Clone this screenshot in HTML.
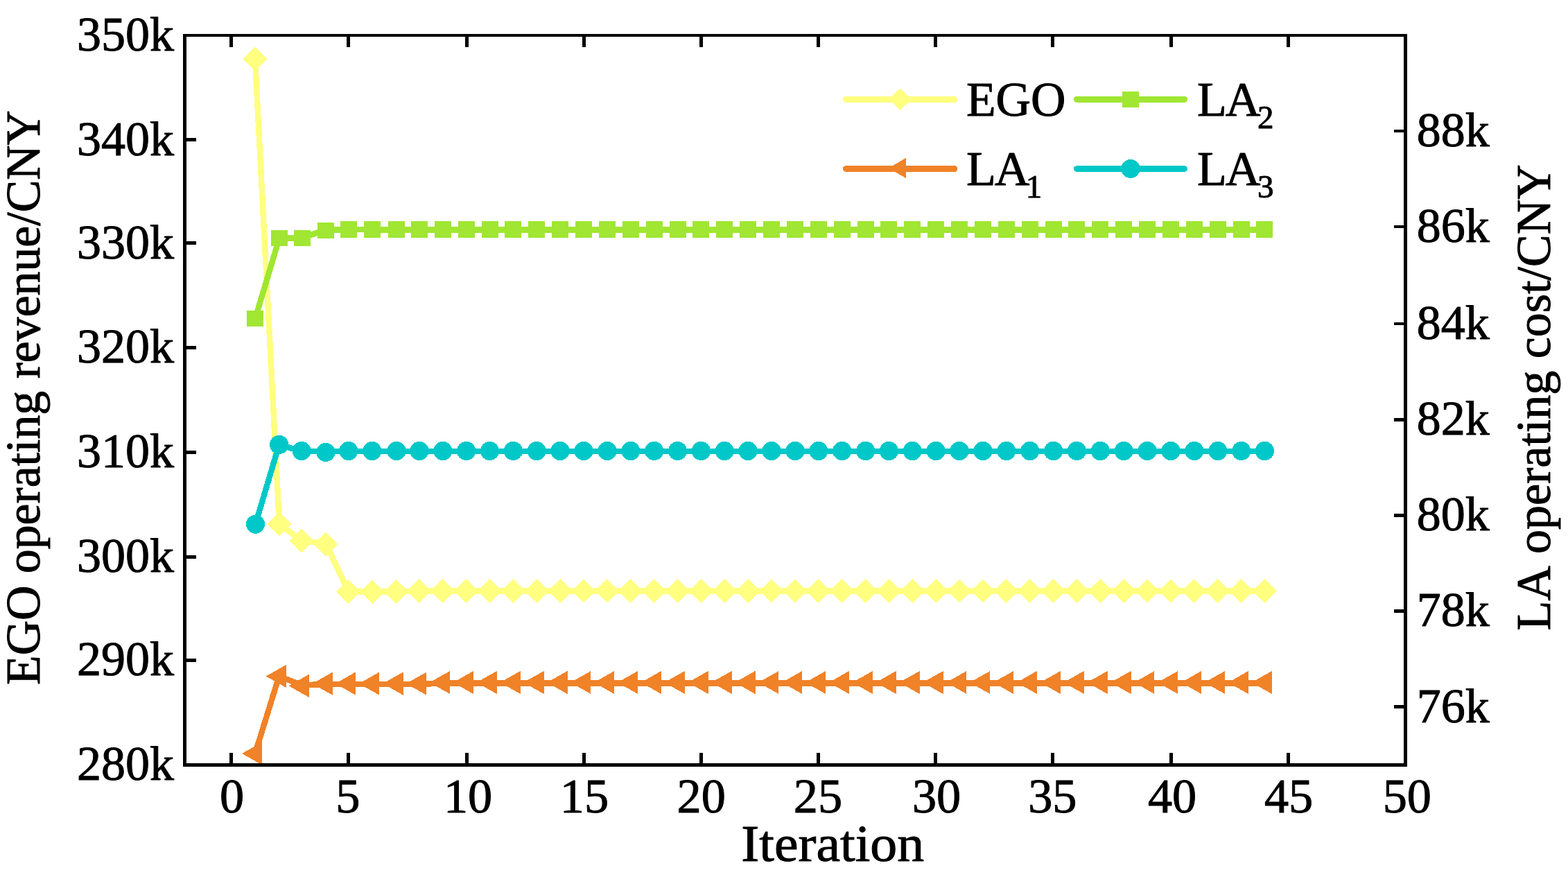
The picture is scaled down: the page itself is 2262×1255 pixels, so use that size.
<!DOCTYPE html>
<html lang="en"><head><meta charset="utf-8"><title>Iteration convergence chart</title>
<style>html,body{margin:0;padding:0;background:#fff}body{width:2262px;height:1255px;overflow:hidden}svg{display:block}text{font-family:"Liberation Serif",serif;fill:#000;stroke:#000;stroke-width:1px;stroke-linejoin:round}</style>
</head><body>
<svg width="2262" height="1255" viewBox="0 0 2262 1255" role="img" aria-label="EGO operating revenue and LA operating cost versus iteration">
<rect x="0" y="0" width="2262" height="1255" fill="#fff"/>
<g fill="#FFFF80" stroke="none" shape-rendering="crispEdges">
<polyline points="368,85 403,756 434.8,780 470.1,784 502.7,853.4 537.2,853.4 571.6,853.4 604.87,852.6 638.75,852.6 672.63,852.6 706.51,852.6 740.39,852.6 774.26,852.6 808.14,852.6 842.02,852.6 875.9,852.6 909.78,852.6 943.65,852.6 977.53,852.6 1011.41,852.6 1045.29,852.6 1079.17,852.6 1113.04,852.6 1146.92,852.6 1180.8,852.6 1214.68,852.6 1248.56,852.6 1282.43,852.6 1316.31,852.6 1350.19,852.6 1384.07,852.6 1417.95,852.6 1451.82,852.6 1485.7,852.6 1519.58,852.6 1553.46,852.6 1587.34,852.6 1621.21,852.6 1655.09,852.6 1688.97,852.6 1722.85,852.6 1756.73,852.6 1790.6,852.6 1824.48,852.6" fill="none" stroke="#FFFF80" stroke-width="8.4" stroke-linejoin="round" stroke-linecap="round"/>
<path d="M368 67.6L385.4 85L368 102.4L350.6 85ZM403 738.6L420.4 756L403 773.4L385.6 756ZM434.8 762.6L452.2 780L434.8 797.4L417.4 780ZM470.1 767.6L487.5 785L470.1 802.4L452.7 785ZM502.7 836.3L520.1 853.7L502.7 871.1L485.3 853.7ZM537.2 836.3L554.6 853.7L537.2 871.1L519.8 853.7ZM571.6 836.3L589 853.7L571.6 871.1L554.2 853.7ZM604.87 835.1L622.27 852.5L604.87 869.9L587.47 852.5ZM638.75 835.1L656.15 852.5L638.75 869.9L621.35 852.5ZM672.63 835.1L690.03 852.5L672.63 869.9L655.23 852.5ZM706.51 835.1L723.91 852.5L706.51 869.9L689.11 852.5ZM740.39 835.1L757.79 852.5L740.39 869.9L722.99 852.5ZM774.26 835.1L791.66 852.5L774.26 869.9L756.86 852.5ZM808.14 835.1L825.54 852.5L808.14 869.9L790.74 852.5ZM842.02 835.1L859.42 852.5L842.02 869.9L824.62 852.5ZM875.9 835.1L893.3 852.5L875.9 869.9L858.5 852.5ZM909.78 835.1L927.18 852.5L909.78 869.9L892.38 852.5ZM943.65 835.1L961.05 852.5L943.65 869.9L926.25 852.5ZM977.53 835.1L994.93 852.5L977.53 869.9L960.13 852.5ZM1011.41 835.1L1028.81 852.5L1011.41 869.9L994.01 852.5ZM1045.29 835.1L1062.69 852.5L1045.29 869.9L1027.89 852.5ZM1079.17 835.1L1096.57 852.5L1079.17 869.9L1061.77 852.5ZM1113.04 835.1L1130.44 852.5L1113.04 869.9L1095.64 852.5ZM1146.92 835.1L1164.32 852.5L1146.92 869.9L1129.52 852.5ZM1180.8 835.1L1198.2 852.5L1180.8 869.9L1163.4 852.5ZM1214.68 835.1L1232.08 852.5L1214.68 869.9L1197.28 852.5ZM1248.56 835.1L1265.96 852.5L1248.56 869.9L1231.16 852.5ZM1282.43 835.1L1299.83 852.5L1282.43 869.9L1265.03 852.5ZM1316.31 835.1L1333.71 852.5L1316.31 869.9L1298.91 852.5ZM1350.19 835.1L1367.59 852.5L1350.19 869.9L1332.79 852.5ZM1384.07 835.1L1401.47 852.5L1384.07 869.9L1366.67 852.5ZM1417.95 835.1L1435.35 852.5L1417.95 869.9L1400.55 852.5ZM1451.82 835.1L1469.22 852.5L1451.82 869.9L1434.42 852.5ZM1485.7 835.1L1503.1 852.5L1485.7 869.9L1468.3 852.5ZM1519.58 835.1L1536.98 852.5L1519.58 869.9L1502.18 852.5ZM1553.46 835.1L1570.86 852.5L1553.46 869.9L1536.06 852.5ZM1587.34 835.1L1604.74 852.5L1587.34 869.9L1569.94 852.5ZM1621.21 835.1L1638.61 852.5L1621.21 869.9L1603.81 852.5ZM1655.09 835.1L1672.49 852.5L1655.09 869.9L1637.69 852.5ZM1688.97 835.1L1706.37 852.5L1688.97 869.9L1671.57 852.5ZM1722.85 835.1L1740.25 852.5L1722.85 869.9L1705.45 852.5ZM1756.73 835.1L1774.13 852.5L1756.73 869.9L1739.33 852.5ZM1790.6 835.1L1808 852.5L1790.6 869.9L1773.2 852.5ZM1824.48 835.1L1841.88 852.5L1824.48 869.9L1807.08 852.5Z"/>
</g>
<g fill="#F08228" stroke="none" shape-rendering="crispEdges">
<polyline points="368,1087 402.6,975.5 435.4,988.3 469.4,987 502.6,987 536.8,987 571.2,987 604.87,987 638.75,985.6 672.63,985.6 706.51,985.6 740.39,985.6 774.26,985.6 808.14,985.6 842.02,985.6 875.9,985.6 909.78,985.6 943.65,985.6 977.53,985.6 1011.41,985.6 1045.29,985.6 1079.17,985.6 1113.04,985.6 1146.92,985.6 1180.8,985.6 1214.68,985.6 1248.56,985.6 1282.43,985.6 1316.31,985.6 1350.19,985.6 1384.07,985.6 1417.95,985.6 1451.82,985.6 1485.7,985.6 1519.58,985.6 1553.46,985.6 1587.34,985.6 1621.21,985.6 1655.09,985.6 1688.97,985.6 1722.85,985.6 1756.73,985.6 1790.6,985.6 1824.48,985.6" fill="none" stroke="#F08228" stroke-width="8.4" stroke-linejoin="round" stroke-linecap="round"/>
<path d="M349.1 1087L378.4 1070.4L378.4 1103.6ZM383.7 975.5L413 958.9L413 992.1ZM416.5 989.3L445.8 972.7L445.8 1005.9ZM450.5 986.2L479.8 969.6L479.8 1002.8ZM483.7 986.1L513 969.5L513 1002.7ZM517.9 986.1L547.2 969.5L547.2 1002.7ZM552.3 986.1L581.6 969.5L581.6 1002.7ZM585.97 986.1L615.27 969.5L615.27 1002.7ZM619.85 984.5L649.15 967.9L649.15 1001.1ZM653.73 984.5L683.03 967.9L683.03 1001.1ZM687.61 984.5L716.91 967.9L716.91 1001.1ZM721.49 984.5L750.79 967.9L750.79 1001.1ZM755.36 984.5L784.66 967.9L784.66 1001.1ZM789.24 984.5L818.54 967.9L818.54 1001.1ZM823.12 984.5L852.42 967.9L852.42 1001.1ZM857 984.5L886.3 967.9L886.3 1001.1ZM890.88 984.5L920.18 967.9L920.18 1001.1ZM924.75 984.5L954.05 967.9L954.05 1001.1ZM958.63 984.5L987.93 967.9L987.93 1001.1ZM992.51 984.5L1021.81 967.9L1021.81 1001.1ZM1026.39 984.5L1055.69 967.9L1055.69 1001.1ZM1060.27 984.5L1089.57 967.9L1089.57 1001.1ZM1094.14 984.5L1123.44 967.9L1123.44 1001.1ZM1128.02 984.5L1157.32 967.9L1157.32 1001.1ZM1161.9 984.5L1191.2 967.9L1191.2 1001.1ZM1195.78 984.5L1225.08 967.9L1225.08 1001.1ZM1229.66 984.5L1258.96 967.9L1258.96 1001.1ZM1263.53 984.5L1292.83 967.9L1292.83 1001.1ZM1297.41 984.5L1326.71 967.9L1326.71 1001.1ZM1331.29 984.5L1360.59 967.9L1360.59 1001.1ZM1365.17 984.5L1394.47 967.9L1394.47 1001.1ZM1399.05 984.5L1428.35 967.9L1428.35 1001.1ZM1432.92 984.5L1462.22 967.9L1462.22 1001.1ZM1466.8 984.5L1496.1 967.9L1496.1 1001.1ZM1500.68 984.5L1529.98 967.9L1529.98 1001.1ZM1534.56 984.5L1563.86 967.9L1563.86 1001.1ZM1568.44 984.5L1597.74 967.9L1597.74 1001.1ZM1602.31 984.5L1631.61 967.9L1631.61 1001.1ZM1636.19 984.5L1665.49 967.9L1665.49 1001.1ZM1670.07 984.5L1699.37 967.9L1699.37 1001.1ZM1703.95 984.5L1733.25 967.9L1733.25 1001.1ZM1737.83 984.5L1767.13 967.9L1767.13 1001.1ZM1771.7 984.5L1801 967.9L1801 1001.1ZM1805.58 984.5L1834.88 967.9L1834.88 1001.1Z"/>
</g>
<g fill="#A0E632" stroke="none" shape-rendering="crispEdges">
<polyline points="368.1,459.8 403,343.3 435.5,343.3 470,331.6 503.1,331.3 537,331.3 572,331.3 604.87,331.3 638.75,331.3 672.63,331.3 706.51,331.3 740.39,331.3 774.26,331.3 808.14,331.3 842.02,331.3 875.9,331.3 909.78,331.3 943.65,331.3 977.53,331.3 1011.41,331.3 1045.29,331.3 1079.17,331.3 1113.04,331.3 1146.92,331.3 1180.8,331.3 1214.68,331.3 1248.56,331.3 1282.43,331.3 1316.31,331.3 1350.19,331.3 1384.07,331.3 1417.95,331.3 1451.82,331.3 1485.7,331.3 1519.58,331.3 1553.46,331.3 1587.34,331.3 1621.21,331.3 1655.09,331.3 1688.97,331.3 1722.85,331.3 1756.73,331.3 1790.6,331.3 1824.48,331.3" fill="none" stroke="#A0E632" stroke-width="8.4" stroke-linejoin="round" stroke-linecap="round"/>
<path d="M356.1 448.35h24v22.9h-24ZM391 332.05h24v22.9h-24ZM423.5 332.05h24v22.9h-24ZM458 321.05h24v22.9h-24ZM491.1 319h24v24h-24ZM525 319h24v24h-24ZM560 319h24v24h-24ZM592.87 319h24v24h-24ZM626.75 319h24v24h-24ZM660.63 319h24v24h-24ZM694.51 319h24v24h-24ZM728.39 319h24v24h-24ZM762.26 319h24v24h-24ZM796.14 319h24v24h-24ZM830.02 319h24v24h-24ZM863.9 319h24v24h-24ZM897.78 319h24v24h-24ZM931.65 319h24v24h-24ZM965.53 319h24v24h-24ZM999.41 319h24v24h-24ZM1033.29 319h24v24h-24ZM1067.17 319h24v24h-24ZM1101.04 319h24v24h-24ZM1134.92 319h24v24h-24ZM1168.8 319h24v24h-24ZM1202.68 319h24v24h-24ZM1236.56 319h24v24h-24ZM1270.43 319h24v24h-24ZM1304.31 319h24v24h-24ZM1338.19 319h24v24h-24ZM1372.07 319h24v24h-24ZM1405.95 319h24v24h-24ZM1439.82 319h24v24h-24ZM1473.7 319h24v24h-24ZM1507.58 319h24v24h-24ZM1541.46 319h24v24h-24ZM1575.34 319h24v24h-24ZM1609.21 319h24v24h-24ZM1643.09 319h24v24h-24ZM1676.97 319h24v24h-24ZM1710.85 319h24v24h-24ZM1744.73 319h24v24h-24ZM1778.6 319h24v24h-24ZM1812.48 319h24v24h-24Z"/>
</g>
<g fill="#00C8C8" stroke="none" shape-rendering="crispEdges">
<polyline points="368.5,756.2 402.6,641.5 435.2,651 469.9,651.3 502.7,651.2 536.8,651.2 571.9,651.2 604.87,651.2 638.75,651.2 672.63,651.2 706.51,651.2 740.39,651.2 774.26,651.2 808.14,651.2 842.02,651.2 875.9,651.2 909.78,651.2 943.65,651.2 977.53,651.2 1011.41,651.2 1045.29,651.2 1079.17,651.2 1113.04,651.2 1146.92,651.2 1180.8,651.2 1214.68,651.2 1248.56,651.2 1282.43,651.2 1316.31,651.2 1350.19,651.2 1384.07,651.2 1417.95,651.2 1451.82,651.2 1485.7,651.2 1519.58,651.2 1553.46,651.2 1587.34,651.2 1621.21,651.2 1655.09,651.2 1688.97,651.2 1722.85,651.2 1756.73,651.2 1790.6,651.2 1824.48,651.2" fill="none" stroke="#00C8C8" stroke-width="8.4" stroke-linejoin="round" stroke-linecap="round"/>
<path d="M354.9 756.2a13.6 13.6 0 1 0 27.2 0a13.6 13.6 0 1 0 -27.2 0ZM389 641.5a13.6 13.6 0 1 0 27.2 0a13.6 13.6 0 1 0 -27.2 0ZM421.6 650.5a13.6 13.6 0 1 0 27.2 0a13.6 13.6 0 1 0 -27.2 0ZM456.3 652.4a13.6 13.6 0 1 0 27.2 0a13.6 13.6 0 1 0 -27.2 0ZM489.1 650.5a13.6 13.6 0 1 0 27.2 0a13.6 13.6 0 1 0 -27.2 0ZM523.2 650.5a13.6 13.6 0 1 0 27.2 0a13.6 13.6 0 1 0 -27.2 0ZM558.3 650.5a13.6 13.6 0 1 0 27.2 0a13.6 13.6 0 1 0 -27.2 0ZM591.27 650.5a13.6 13.6 0 1 0 27.2 0a13.6 13.6 0 1 0 -27.2 0ZM625.15 650.5a13.6 13.6 0 1 0 27.2 0a13.6 13.6 0 1 0 -27.2 0ZM659.03 650.5a13.6 13.6 0 1 0 27.2 0a13.6 13.6 0 1 0 -27.2 0ZM692.91 650.5a13.6 13.6 0 1 0 27.2 0a13.6 13.6 0 1 0 -27.2 0ZM726.79 650.5a13.6 13.6 0 1 0 27.2 0a13.6 13.6 0 1 0 -27.2 0ZM760.66 650.5a13.6 13.6 0 1 0 27.2 0a13.6 13.6 0 1 0 -27.2 0ZM794.54 650.5a13.6 13.6 0 1 0 27.2 0a13.6 13.6 0 1 0 -27.2 0ZM828.42 650.5a13.6 13.6 0 1 0 27.2 0a13.6 13.6 0 1 0 -27.2 0ZM862.3 650.5a13.6 13.6 0 1 0 27.2 0a13.6 13.6 0 1 0 -27.2 0ZM896.18 650.5a13.6 13.6 0 1 0 27.2 0a13.6 13.6 0 1 0 -27.2 0ZM930.05 650.5a13.6 13.6 0 1 0 27.2 0a13.6 13.6 0 1 0 -27.2 0ZM963.93 650.5a13.6 13.6 0 1 0 27.2 0a13.6 13.6 0 1 0 -27.2 0ZM997.81 650.5a13.6 13.6 0 1 0 27.2 0a13.6 13.6 0 1 0 -27.2 0ZM1031.69 650.5a13.6 13.6 0 1 0 27.2 0a13.6 13.6 0 1 0 -27.2 0ZM1065.57 650.5a13.6 13.6 0 1 0 27.2 0a13.6 13.6 0 1 0 -27.2 0ZM1099.44 650.5a13.6 13.6 0 1 0 27.2 0a13.6 13.6 0 1 0 -27.2 0ZM1133.32 650.5a13.6 13.6 0 1 0 27.2 0a13.6 13.6 0 1 0 -27.2 0ZM1167.2 650.5a13.6 13.6 0 1 0 27.2 0a13.6 13.6 0 1 0 -27.2 0ZM1201.08 650.5a13.6 13.6 0 1 0 27.2 0a13.6 13.6 0 1 0 -27.2 0ZM1234.96 650.5a13.6 13.6 0 1 0 27.2 0a13.6 13.6 0 1 0 -27.2 0ZM1268.83 650.5a13.6 13.6 0 1 0 27.2 0a13.6 13.6 0 1 0 -27.2 0ZM1302.71 650.5a13.6 13.6 0 1 0 27.2 0a13.6 13.6 0 1 0 -27.2 0ZM1336.59 650.5a13.6 13.6 0 1 0 27.2 0a13.6 13.6 0 1 0 -27.2 0ZM1370.47 650.5a13.6 13.6 0 1 0 27.2 0a13.6 13.6 0 1 0 -27.2 0ZM1404.35 650.5a13.6 13.6 0 1 0 27.2 0a13.6 13.6 0 1 0 -27.2 0ZM1438.22 650.5a13.6 13.6 0 1 0 27.2 0a13.6 13.6 0 1 0 -27.2 0ZM1472.1 650.5a13.6 13.6 0 1 0 27.2 0a13.6 13.6 0 1 0 -27.2 0ZM1505.98 650.5a13.6 13.6 0 1 0 27.2 0a13.6 13.6 0 1 0 -27.2 0ZM1539.86 650.5a13.6 13.6 0 1 0 27.2 0a13.6 13.6 0 1 0 -27.2 0ZM1573.74 650.5a13.6 13.6 0 1 0 27.2 0a13.6 13.6 0 1 0 -27.2 0ZM1607.61 650.5a13.6 13.6 0 1 0 27.2 0a13.6 13.6 0 1 0 -27.2 0ZM1641.49 650.5a13.6 13.6 0 1 0 27.2 0a13.6 13.6 0 1 0 -27.2 0ZM1675.37 650.5a13.6 13.6 0 1 0 27.2 0a13.6 13.6 0 1 0 -27.2 0ZM1709.25 650.5a13.6 13.6 0 1 0 27.2 0a13.6 13.6 0 1 0 -27.2 0ZM1743.13 650.5a13.6 13.6 0 1 0 27.2 0a13.6 13.6 0 1 0 -27.2 0ZM1777 650.5a13.6 13.6 0 1 0 27.2 0a13.6 13.6 0 1 0 -27.2 0ZM1810.88 650.5a13.6 13.6 0 1 0 27.2 0a13.6 13.6 0 1 0 -27.2 0Z"/>
</g>
<path d="M264 49H2030V53H264ZM264 1101H2030V1106H264ZM264 49H269V1106H264ZM2025 49H2030V1106H2025ZM331.1 1086h5v15h-5ZM331.1 53h5v15h-5ZM500.2 1086h5v15h-5ZM500.2 53h5v15h-5ZM671.1 1086h5v15h-5ZM671.1 53h5v15h-5ZM840.2 1086h5v15h-5ZM840.2 53h5v15h-5ZM1009 1086h5v15h-5ZM1009 53h5v15h-5ZM1178 1086h5v15h-5ZM1178 53h5v15h-5ZM1347 1086h5v15h-5ZM1347 53h5v15h-5ZM1515.9 1086h5v15h-5ZM1515.9 53h5v15h-5ZM1687 1086h5v15h-5ZM1687 53h5v15h-5ZM1855.9 1086h5v15h-5ZM1855.9 53h5v15h-5ZM269 198.9h14.2v4.8h-14.2ZM269 348.2h14.2v4.8h-14.2ZM269 498.9h14.2v4.8h-14.2ZM269 650.4h14.2v4.8h-14.2ZM269 801h14.2v4.8h-14.2ZM269 950.4h14.2v4.8h-14.2ZM2011 186.6h14v4.8h-14ZM2011 324.6h14v4.8h-14ZM2011 464.6h14v4.8h-14ZM2011 603h14v4.8h-14ZM2011 741h14v4.8h-14ZM2011 879.2h14v4.8h-14ZM2011 1016.9h14v4.8h-14Z" fill="#000" stroke="none" shape-rendering="crispEdges"/>
<g font-size="70" text-anchor="end">
<text x="251" y="73.4">350k</text>
<text x="251" y="223.7">340k</text>
<text x="251" y="373.1">330k</text>
<text x="251" y="522.9">320k</text>
<text x="251" y="673.7">310k</text>
<text x="251" y="824.6">300k</text>
<text x="251" y="973.7">290k</text>
<text x="251" y="1125">280k</text>
</g>
<g font-size="70" text-anchor="start">
<text x="2043.8" y="211.4">88k</text>
<text x="2043.8" y="349.3">86k</text>
<text x="2043.8" y="488.7">84k</text>
<text x="2043.8" y="627.2">82k</text>
<text x="2043.8" y="764.8">80k</text>
<text x="2043.8" y="903.2">78k</text>
<text x="2043.8" y="1041.5">76k</text>
</g>
<g font-size="70.3" text-anchor="middle">
<text x="334.5" y="1172.3">0</text>
<text x="501.8" y="1172.3">5</text>
<text x="675.1" y="1172.3">10</text>
<text x="842.9" y="1172.3">15</text>
<text x="1011.7" y="1172.3">20</text>
<text x="1179.9" y="1172.3">25</text>
<text x="1351.1" y="1172.3">30</text>
<text x="1518.3" y="1172.3">35</text>
<text x="1691.1" y="1172.3">40</text>
<text x="1859.1" y="1172.3">45</text>
<text x="2029.8" y="1172.3">50</text>
</g>
<text font-size="73.6" text-anchor="middle" x="1201.3" y="1241.8" textLength="264" lengthAdjust="spacingAndGlyphs">Iteration</text>
<text font-size="70" text-anchor="middle" transform="translate(57 573.5) rotate(-90)" x="0" y="0" textLength="828.8" lengthAdjust="spacingAndGlyphs">EGO operating revenue/CNY</text>
<text font-size="70" text-anchor="start" transform="translate(2236 909.6) rotate(-90)" x="0" y="0">LA<tspan dx="3.6"> operating cost/CNY</tspan></text>
<g fill="#FFFF80" shape-rendering="crispEdges"><line x1="1220.5" y1="143.3" x2="1376.7" y2="143.3" stroke="#FFFF80" stroke-width="9" stroke-linecap="round"/><path d="M1298.6 127.6L1315.1 143.3L1298.6 159L1282.1 143.3Z"/></g>
<g fill="#F08228" shape-rendering="crispEdges"><line x1="1220.5" y1="243.5" x2="1376.7" y2="243.5" stroke="#F08228" stroke-width="9" stroke-linecap="round"/><path d="M1281.8 242.45L1307 227.9V257Z"/></g>
<g fill="#A0E632" shape-rendering="crispEdges"><line x1="1553.5" y1="143.3" x2="1708.5" y2="143.3" stroke="#A0E632" stroke-width="9" stroke-linecap="round"/><rect x="1618.9" y="131.9" width="24.2" height="22.8"/></g>
<g fill="#00C8C8" shape-rendering="crispEdges"><line x1="1553.5" y1="243.5" x2="1708.5" y2="243.5" stroke="#00C8C8" stroke-width="9" stroke-linecap="round"/><circle cx="1631" cy="243.5" r="13.5"/></g>
<g font-size="70">
<text x="1394" y="166.9" textLength="143.4" lengthAdjust="spacingAndGlyphs">EGO</text>
<text x="1394" y="266.7">L<tspan dx="-1.9">A</tspan><tspan font-size="47" dy="18" dx="-5.6">1</tspan></text>
<text x="1726.9" y="166.9">L<tspan dx="-1.9">A</tspan><tspan font-size="47" dy="18" dx="-4.3">2</tspan></text>
<text x="1726.9" y="266.7">L<tspan dx="-1.9">A</tspan><tspan font-size="47" dy="18.6" dx="-4.3">3</tspan></text>
</g>
</svg>
</body></html>
